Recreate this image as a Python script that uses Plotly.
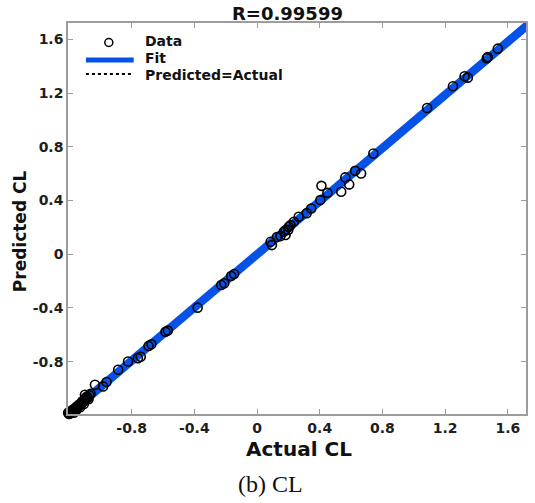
import numpy as np
import plotly.graph_objects as go

# ---- data ----
actual = [1.730, 1.536, 1.472, 1.466, 1.324, 1.345, 1.250, 1.085, 0.742,
          0.626, 0.664, 0.563, 0.588, 0.537, 0.411, 0.449, 0.404, 0.346, 0.317,
          0.266, 0.235, 0.203, 0.182, 0.150, 0.127, 0.087, 0.095, 0.171, 0.199,
          0.214, 0.182,
          -0.146, -0.165, -0.209, -0.228, -0.379, -0.569, -0.584, -0.674, -0.692,
          -0.760, -0.742, -0.823, -0.886, -0.960, -0.982, -1.034, -1.098,
          -1.200, -1.195, -1.190, -1.185, -1.180, -1.175, -1.170, -1.165, -1.160,
          -1.155, -1.150, -1.140, -1.135, -1.130, -1.120, -1.110, -1.100, -1.090,
          -1.080, -1.085, -1.070,
          -1.205, -1.192, -1.178, -1.168, -1.152, -1.145, -1.128, -1.115, -1.105,
          -1.095, -1.075, -1.062]
predicted = [1.704, 1.531, 1.468, 1.459, 1.325, 1.315, 1.251, 1.089, 0.750,
             0.621, 0.601, 0.572, 0.520, 0.465, 0.509, 0.457, 0.403, 0.341, 0.306,
             0.279, 0.242, 0.204, 0.180, 0.135, 0.128, 0.093, 0.068, 0.167, 0.180,
             0.217, 0.143,
             -0.147, -0.162, -0.216, -0.229, -0.398, -0.569, -0.578, -0.670, -0.683,
             -0.774, -0.764, -0.799, -0.861, -0.952, -0.985, -0.972, -1.047,
             -1.190, -1.180, -1.185, -1.170, -1.175, -1.160, -1.165, -1.150, -1.155,
             -1.140, -1.145, -1.130, -1.120, -1.125, -1.110, -1.100, -1.090, -1.075,
             -1.070, -1.060, -1.050,
             -1.180, -1.195, -1.160, -1.180, -1.160, -1.130, -1.140, -1.095, -1.115,
             -1.070, -1.080, -1.040]
tick_vals = [-0.8, -0.4, 0, 0.4, 0.8, 1.2, 1.6]
tick_text = ["-0.8", "-0.4", "0", "0.4", "0.8", "1.2", "1.6"]
x_range = [-1.206, 1.716]
y_range = [-1.19, 1.722]
title_text = "R=0.99599"
x_title = "Actual CL"
y_title = "Predicted CL"
caption = "(b) CL"
legend_labels = ["Data", "Fit", "Predicted=Actual"]

W, H = 535, 503
L, R, T, B = 68, 7, 23, 89

a = np.array(actual)
p = np.array(predicted)
slope, intercept = np.polyfit(a, p, 1)
xl = np.array([a.min(), a.max()])

BLUE = "#0652e6"
GRAY = "#9c9c9c"
BOLD = "DejaVu Sans"

fig = go.Figure()
fig.add_trace(go.Scatter(x=xl, y=xl, mode="lines",
                         line=dict(color="black", width=2, dash="dot"),
                         showlegend=False, hoverinfo="skip"))
fig.add_trace(go.Scatter(x=xl, y=slope * xl + intercept, mode="lines",
                         line=dict(color=BLUE, width=8.5),
                         showlegend=False, hoverinfo="skip"))
fig.add_trace(go.Scatter(x=actual, y=predicted, mode="markers",
                         marker=dict(symbol="circle-open", size=9,
                                     color="black", line=dict(width=1.6)),
                         showlegend=False, cliponaxis=False))

axis_common = dict(showgrid=False, zeroline=False, showline=True, linecolor=GRAY,
                   linewidth=1.5, mirror="ticks", ticks="inside", ticklen=5,
                   tickcolor=GRAY, tickwidth=1.2, tickvals=tick_vals,
                   ticktext=tick_text,
                   tickfont=dict(family=BOLD, size=14, color="#1e1e1e",
                                 weight="bold"))
fig.update_xaxes(range=x_range, **axis_common)
fig.update_yaxes(range=y_range, **axis_common)

pw = W - L - R
ph = H - T - B


def px(x):
    return (x - L) / pw


def py(y):
    return (H - B - y) / ph


annotations = [
    dict(text=title_text, x=px(288), y=py(13), font=dict(family=BOLD, size=18, weight="bold", color="#111")),
    dict(text=x_title, x=px(300), y=py(449), font=dict(family=BOLD, size=20, weight="bold", color="#111")),
    dict(text=y_title, x=px(20), y=py(231), textangle=-90, font=dict(family=BOLD, size=17, weight="bold", color="#111")),
    dict(text=caption, x=px(271), y=py(484), font=dict(family="Liberation Serif", size=24, color="#111")),
]
for lab, yy in zip(legend_labels, [41, 58, 75]):
    annotations.append(dict(text=lab, x=px(143), y=py(yy), xanchor="left",
                            font=dict(family=BOLD, size=14, weight="bold", color="#111")))
for an in annotations:
    an.setdefault("xanchor", "center")
    an.update(xref="paper", yref="paper", yanchor="middle", showarrow=False)

shapes = [
    dict(type="circle", xref="paper", yref="paper", xsizemode="pixel", ysizemode="pixel",
         xanchor=px(109), yanchor=py(42.5), x0=-4, x1=4, y0=-4, y1=4,
         line=dict(color="black", width=1.5)),
    dict(type="line", xref="paper", yref="paper", x0=px(86), x1=px(134), y0=py(60), y1=py(60),
         line=dict(color=BLUE, width=5)),
    dict(type="line", xref="paper", yref="paper", x0=px(86), x1=px(134), y0=py(74), y1=py(74),
         line=dict(color="black", width=2, dash="dot")),
]

fig.update_layout(width=W, height=H, margin=dict(l=L, r=R, t=T, b=B, pad=0),
                  plot_bgcolor="white", paper_bgcolor="white",
                  annotations=annotations, shapes=shapes, showlegend=False)
fig.write_html("out.html")
